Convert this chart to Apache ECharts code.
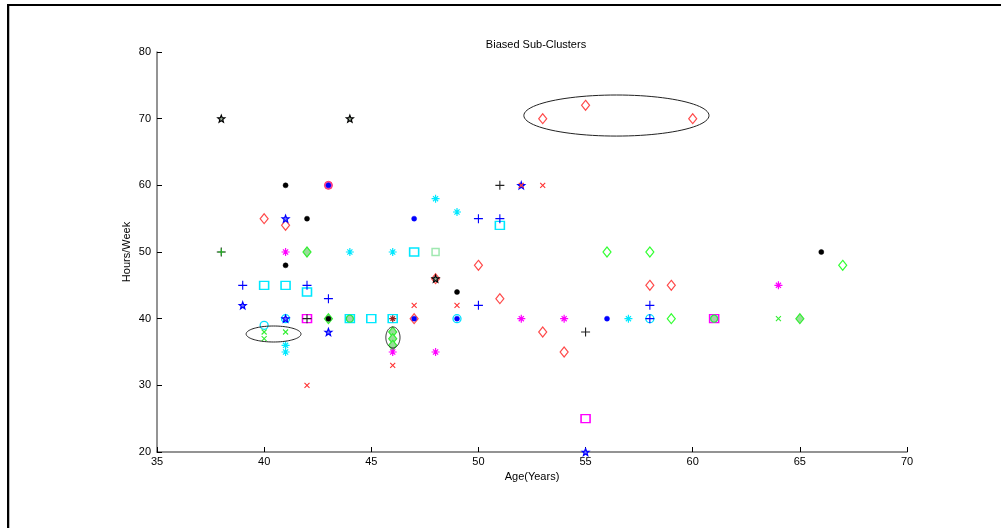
<!DOCTYPE html>
<html>
<head>
<meta charset="utf-8">
<script src="https://cdn.jsdelivr.net/npm/echarts@6/dist/echarts.min.js"></script>
<style>
html,body{margin:0;padding:0;background:#fff;}
#main{width:1001px;height:528px;}
</style>
</head>
<body>
<div id="main"></div>
<script>
// ---- data (Age, Hours/Week) ----
const xTicks = [35, 40, 45, 50, 55, 60, 65, 70];
const yTicks = [20, 30, 40, 50, 60, 70, 80];

const redDiamond = [[53,70],[55,72],[60,70],[40,55],[41,54],[50,48],[48,46],[58,45],[59,45],[51,43],[53,38],[54,35],[47,40]];
const greenDiamondHollow = [[56,50],[58,50],[67,48],[59,40]];
const greenDiamondFilled = [[42,50],[46,38],[46,37],[46,36],[65,40],[43,40]];
const cyanSquare = [[51,54],[47,50],[40,45],[41,45],[42,44],[44,40],[45,40],[46,40]];
const magentaSquare = [[42,40],[61,40],[55,25]];
const lightGreenSquare = [[48,50]];
const cyanCircle = [[40,39],[41,40],[49,40],[58,40]];
const greenCircle = [[44,40],[61,40]];
const magentaCircle = [[43,60]];
const blackStar = [[38,70],[44,70],[48,46]];
const blueStar = [[52,60],[41,55],[39,42],[43,38],[55,20],[41,40]];
const blackDot = [[41,60],[42,55],[41,48],[49,44],[66,50],[43,40]];
const blueDot = [[43,60],[47,55],[47,40],[49,40],[56,40]];
const magentaAsterisk = [[41,50],[64,45],[52,40],[54,40],[46,35],[48,35]];
const cyanAsterisk = [[48,58],[49,56],[44,50],[46,50],[41,36],[41,35],[57,40]];
const brownAsterisk = [[46,40]];
const bluePlus = [[50,55],[51,55],[39,45],[42,45],[43,43],[50,42],[58,42],[58,40]];
const blackPlus = [[51,60],[55,38],[42,40],[38,50]];
const greenPlus = [[38,50]];
const redX = [[53,60],[52,60],[47,42],[49,42],[46,33],[42,30]];
const greenX = [[40,38],[41,38],[40,37],[64,40]];

// cluster ellipses: [centerAge, centerHours, radiusAge, radiusHours]
const clusterEllipses = [[56.44,70.47,4.32,3.08],[40.44,37.7,1.28,1.2],[46.01,37.18,0.33,1.58]];

const P_PLUS = 'path://M0,5L10,5M5,0L5,10';
const P_X = 'path://M0,0L10,10M10,0L0,10';
const P_AST = 'path://M0,5L10,5M5,0L5,10M1.8,1.8L8.2,8.2M8.2,1.8L1.8,8.2';
function starPath(){
  let d = '';
  for (let i = 0; i < 10; i++) {
    const r = i % 2 === 0 ? 5 : 2.1;
    const a = -Math.PI/2 + i*Math.PI/5;
    d += (i===0?'M':'L') + (5 + r*Math.cos(a)).toFixed(3) + ',' + (5 + r*Math.sin(a)).toFixed(3);
  }
  return 'path://' + d + 'Z';
}
const P_STAR = starPath();

function sc(data, symbol, size, stroke, fill, lw){
  return {
    type: 'scatter', data: data, symbol: symbol, symbolSize: size, silent: true,
    itemStyle: {color: fill || 'rgba(0,0,0,0)', borderColor: stroke, borderWidth: lw || 1, opacity: 1},
    emphasis: {disabled: true}, z: 3
  };
}

const chart = echarts.init(document.getElementById('main'), null, {renderer: 'canvas'});
const font = 'Liberation Sans, Arial, sans-serif';
chart.setOption({
  animation: false,
  backgroundColor: '#fff',
  title: {
    text: 'Biased Sub-Clusters', left: 531, top: 34, textAlign: 'center',
    textStyle: {fontFamily: font, fontSize: 11, fontWeight: 'normal', color: '#000'}
  },
  graphic: [
    {type: 'line', shape: {x1: 7, y1: 5, x2: 1001, y2: 5}, style: {stroke: '#000', lineWidth: 2}},
    {type: 'line', shape: {x1: 8, y1: 5, x2: 8, y2: 528}, style: {stroke: '#000', lineWidth: 2}},
    {type: 'line', shape: {x1: 9.5, y1: 6, x2: 9.5, y2: 528}, style: {stroke: '#bbb', lineWidth: 1}},
    {type: 'text', x: 127, y: 252, rotation: Math.PI / 2,
      style: {text: 'Hours/Week', font: '11px Liberation Sans, Arial, sans-serif', fill: '#000', align: 'center', verticalAlign: 'middle'}}
  ],
  grid: {left: 157, top: 52, width: 750, height: 400, containLabel: false},
  xAxis: {
    type: 'value', min: 35, max: 70, interval: 5,
    name: 'Age(Years)', nameLocation: 'middle', nameGap: 19,
    nameTextStyle: {fontFamily: font, fontSize: 11, color: '#000'},
    axisLine: {show: true, lineStyle: {color: '#707070', width: 1.5}},
    axisTick: {show: true, inside: true, length: 5, lineStyle: {color: '#000'}},
    axisLabel: {fontFamily: font, fontSize: 11, color: '#000', margin: 4,
      formatter: v => xTicks.includes(v) ? String(v) : ''},
    splitLine: {show: false}
  },
  yAxis: {
    type: 'value', min: 20, max: 80, interval: 10,
    axisLine: {show: true, lineStyle: {color: '#707070', width: 1.5}},
    axisTick: {show: true, inside: true, length: 5, lineStyle: {color: '#000'}},
    axisLabel: {fontFamily: font, fontSize: 11, color: '#000', margin: 6,
      formatter: v => yTicks.includes(v) ? String(v) : ''},
    splitLine: {show: false}
  },
  series: [
    sc(cyanSquare, 'rect', [9, 8], '#00e8ff', null, 1.5),
    sc(magentaSquare, 'rect', [9, 8], '#ff00ff', null, 1.5),
    sc(lightGreenSquare, 'rect', [7, 7], '#9fe8b0', null, 1.5),
    sc(redDiamond, 'diamond', [8, 10], '#ff4a4a', null, 1.2),
    sc(greenDiamondHollow, 'diamond', [8, 10], '#33ff33', null, 1.2),
    sc(greenDiamondFilled, 'diamond', [8, 10], '#33ee33', '#99dd99', 1.2),
    sc(cyanCircle, 'circle', 8, '#00e0ff', null, 1.3),
    sc(greenCircle, 'circle', 7, '#22ee44', '#aaccaa', 1.3),
    sc(magentaCircle, 'circle', 8, '#ff3366', '#ff55aa', 1),
    sc(blackStar, P_STAR, 7, '#000', '#99aa99', 1.2),
    sc(blueStar, P_STAR, 7, '#0000ff', '#7777ff', 1.2),
    sc(blackDot, 'circle', 5, '#000', '#000', 0.5),
    sc(blueDot, 'circle', 5, '#0000ff', '#0000ff', 0.5),
    sc(magentaAsterisk, P_AST, 8, '#ff00ff', null, 1.2),
    sc(cyanAsterisk, P_AST, 8, '#00e8ff', null, 1.2),
    sc(brownAsterisk, P_AST, 7, '#992222', null, 1.2),
    sc(bluePlus, P_PLUS, 9, '#0000ff', null, 1.1),
    sc(blackPlus, P_PLUS, 9, '#222', null, 1.1),
    sc(greenPlus, P_PLUS, 7, '#22bb22', null, 1.1),
    sc(redX, P_X, 5, '#ff3333', null, 1.1),
    sc(greenX, P_X, 5, '#33ee33', null, 1.1),
    {
      type: 'custom', silent: true, z: 5,
      data: clusterEllipses,
      renderItem: function(params, api){
        const cx = api.value(0), cy = api.value(1), rx = api.value(2), ry = api.value(3);
        const pts = [];
        for (let i = 0; i < 96; i++) {
          const t = i / 96 * Math.PI * 2;
          pts.push(api.coord([cx + rx*Math.cos(t), cy + ry*Math.sin(t)]));
        }
        return {type: 'polygon', shape: {points: pts}, style: {fill: 'none', stroke: '#222', lineWidth: 1}};
      }
    }
  ]
});
</script>
</body>
</html>
